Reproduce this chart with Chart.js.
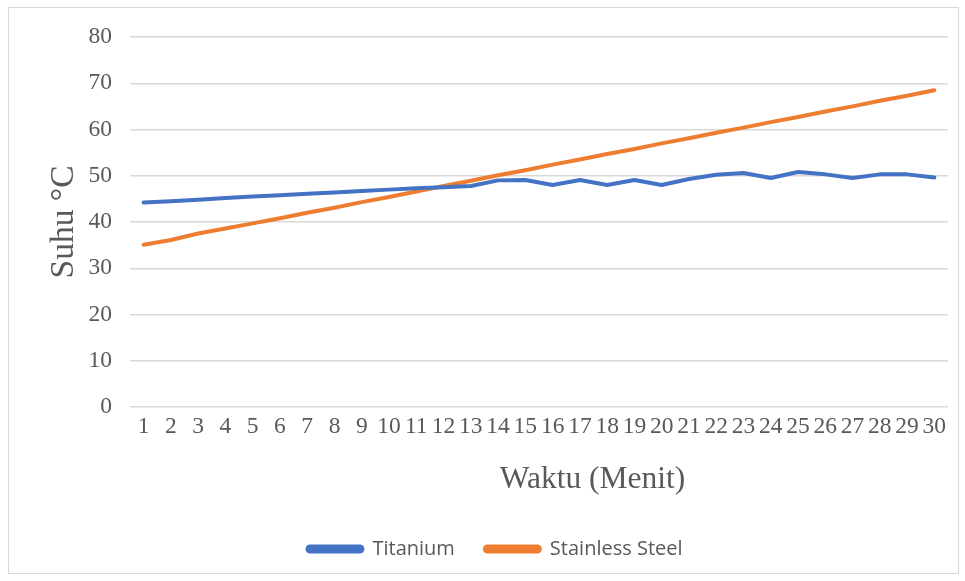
<!DOCTYPE html>
<html>
<head>
<meta charset="utf-8">
<script src="https://cdn.jsdelivr.net/npm/chart.js@4.4.0/dist/chart.umd.min.js"></script>
<style>
  html,body{margin:0;padding:0;background:#fff;}
  #wrap{position:relative;width:965px;height:581px;}
  #frame{position:absolute;left:8px;top:7px;width:951px;height:567px;box-sizing:border-box;border:1px solid #d9d9d9;}
  canvas{position:absolute;left:0;top:0;}
</style>
</head>
<body>
<div id="wrap">
  <div id="frame"></div>
  <canvas id="myChart" width="965" height="581"></canvas>
</div>
<script>
// menit ke-1 .. ke-30
const waktu=[1,2,3,4,5,6,7,8,9,10,11,12,13,14,15,16,17,18,19,20,21,22,23,24,25,26,27,28,29,30];
const titanium=[44.2,44.5,44.8,45.2,45.5,45.8,46.1,46.4,46.7,47.0,47.3,47.5,47.8,49.0,49.1,48.0,49.1,48.0,49.1,48.0,49.3,50.2,50.6,49.5,50.8,50.3,49.5,50.3,50.3,49.6];
const stainless=[35.1,36.1,37.5,38.6,39.7,40.8,42.0,43.1,44.3,45.4,46.6,47.8,48.9,50.1,51.2,52.4,53.5,54.7,55.8,57.0,58.1,59.3,60.4,61.6,62.7,63.9,65.0,66.2,67.3,68.5];
const yTicks=[0,10,20,30,40,50,60,70,80];
const xTitle="Waktu (Menit)";

const gray="#595959";
const serif="'Liberation Serif','Times New Roman',serif";

// x axis title sits a bit right of centre in the original, so draw it by hand
const xTitlePlugin={
    id:"xTitle",
    afterDraw(chart){
        const c=chart.ctx;
        c.save();
        c.fillStyle=gray;
        c.font="31.5px "+serif;
        c.textAlign="center";
        c.textBaseline="middle";
        c.fillText(xTitle,592.5,480);
        c.restore();
    },
};

var ctx=document.getElementById("myChart").getContext("2d");
var myChart=new Chart(ctx,{
    type:"line",
    data:{
        labels:waktu,
        datasets:[
            {
                label:"Titanium",
                data:titanium,
                borderColor:"#4472C4",
                backgroundColor:"#4472C4",
                borderWidth:4,
                pointRadius:0,
                tension:0,
                borderCapStyle:"round",
                borderJoinStyle:"round",
            },
            {
                label:"Stainless Steel",
                data:stainless,
                borderColor:"#ED7D31",
                backgroundColor:"#ED7D31",
                borderWidth:4,
                pointRadius:0,
                tension:0,
                borderCapStyle:"round",
                borderJoinStyle:"round",
            },
        ],
    },
    plugins:[xTitlePlugin],
    options:{
        responsive:false,
        animation:false,
        layout:{padding:{left:42,right:17,top:37,bottom:12}},
        plugins:{
            tooltip:{enabled:false},
            legend:{
                position:"bottom",
                labels:{
                    color:gray,
                    font:{family:"'Open Sans',sans-serif",size:20},
                    boxWidth:55,
                    boxHeight:5,
                    useBorderRadius:true,
                    borderRadius:2.5,
                    padding:30,
                },
            },
        },
        scales:{
            x:{
                offset:true,
                grid:{display:false,drawTicks:false,tickLength:0},
                border:{display:false},
                ticks:{color:gray,font:{family:serif,size:23.5},padding:6,maxRotation:0,autoSkip:false},
                afterFit:(s)=>{s.height=102;},
            },
            y:{
                min:0,
                max:80,
                grid:{color:"#d9d9d9",lineWidth:1.5,drawTicks:false},
                border:{display:false},
                afterBuildTicks:(s)=>{s.ticks=yTicks.map(v=>({value:v}));},
                ticks:{color:gray,font:{family:serif,size:23.5},padding:18},
                title:{display:true,text:"Suhu °C",color:gray,font:{family:serif,size:33.5},padding:{top:2,bottom:0}},
                afterFit:(s)=>{s.width=88;},
            },
        },
    },
});
</script>
</body>
</html>
